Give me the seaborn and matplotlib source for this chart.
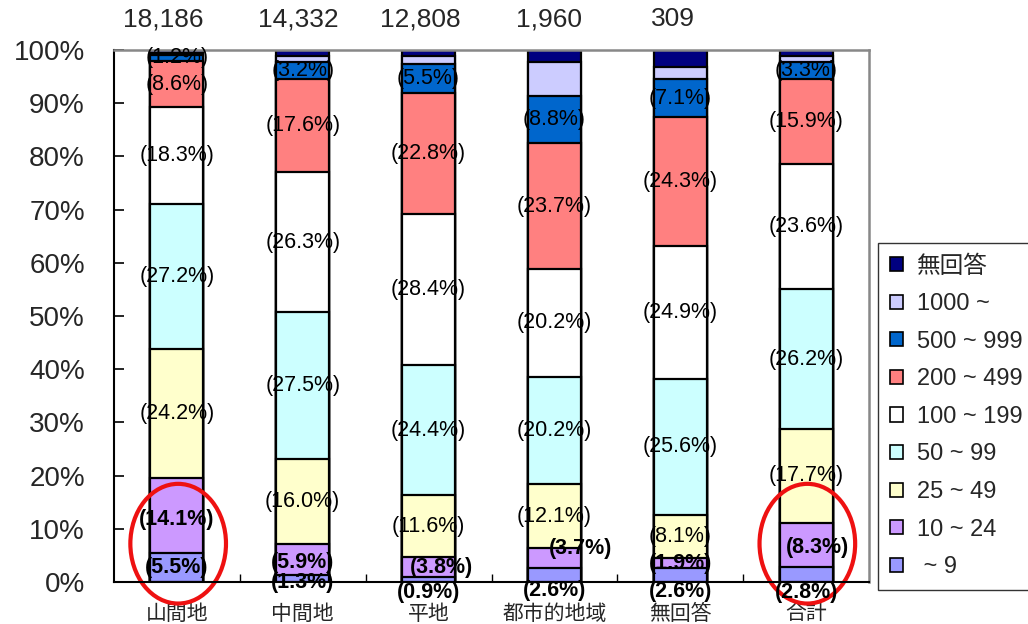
import numpy as np
import matplotlib
matplotlib.use('Agg')
import matplotlib.pyplot as plt
import seaborn as sns
from matplotlib.patches import Patch, Ellipse

# data (percent by size class)
categories = ['山間地', '中間地', '平地', '都市的地域', '無回答', '合計']
counts = ['18,186', '14,332', '12,808', '1,960', '309', '']

class_names = [' ~ 9', '10 ~ 24', '25 ~ 49', '50 ~ 99', '100 ~ 199',
               '200 ~ 499', '500 ~ 999', '1000 ~', '無回答']
s_0_9 = [5.5, 1.3, 0.9, 2.6, 2.6, 2.8]
s_10_24 = [14.1, 5.9, 3.8, 3.7, 1.9, 8.3]
s_25_49 = [24.2, 16.0, 11.6, 12.1, 8.1, 17.7]
s_50_99 = [27.2, 27.5, 24.4, 20.2, 25.6, 26.2]
s_100_199 = [18.3, 26.3, 28.4, 20.2, 24.9, 23.6]
s_200_499 = [8.6, 17.6, 22.8, 23.7, 24.3, 15.9]
s_500_999 = [1.2, 3.2, 5.5, 8.8, 7.1, 3.3]
s_1000 = [0.3, 1.0, 1.5, 6.4, 2.3, 1.1]
s_none = [0.6, 1.2, 1.1, 2.3, 3.2, 1.1]

series = [s_0_9, s_10_24, s_25_49, s_50_99, s_100_199,
          s_200_499, s_500_999, s_1000, s_none]
colors = ['#9999FF', '#CC99FF', '#FFFFCC', '#CCFFFF', '#FFFFFF',
          '#FF8080', '#0066CC', '#CCCCFF', '#000080']

# label nudges in points for the crowded small segments: (bar, class) -> (dx, dy)
nudges = {(0, 1): (0, -3), (1, 0): (0, -3), (1, 1): (0, -2),
          (2, 1): (9, 0), (2, 0): (0, -9),
          (3, 1): (19, 7), (3, 0): (0, -11),
          (4, 0): (0, -12), (5, 1): (8, -2), (5, 0): (0, -13)}
count_dx = [-10, -3, -6, -4, -5, 0]

sns.set_theme(style='white')
plt.rcParams['font.family'] = ['Liberation Sans', 'Noto Sans CJK JP']

fig = plt.figure(figsize=(10.28, 6.24), dpi=100)
ax = fig.add_axes([114 / 1028, 1 - 582 / 624, 755 / 1028, 532 / 624])

vals = np.array(series)
cum = np.cumsum(vals, axis=0)

# stacked bars: draw cumulative totals from the top layer down
for k in range(len(series) - 1, -1, -1):
    sns.barplot(x=categories, y=cum[k], order=categories, color=colors[k],
                saturation=1, width=0.42, edgecolor='black', linewidth=1.6,
                errorbar=None, ax=ax)

# segment labels
for k in range(7):
    for i in range(len(categories)):
        yc = cum[k][i] - vals[k][i] / 2
        dx, dy = nudges.get((i, k), (0, 0))
        bold = k < 2
        ax.annotate(f'({vals[k][i]:.1f}%)', (i, yc), xytext=(dx, dy),
                    textcoords='offset points', ha='center', va='center',
                    fontsize=15.5, fontweight='bold' if bold else 'normal',
                    color='black', annotation_clip=False, zorder=5)

# counts above bars
for i, c in enumerate(counts):
    ax.annotate(c, (i, 100), xytext=(count_dx[i], 22), textcoords='offset points',
                ha='center', va='center', fontsize=19, annotation_clip=False)

# red circles
for i in (0, 5):
    ax.add_patch(Ellipse((i + 0.01, 7.2), 0.76, 22.5, fill=False,
                         edgecolor='#EE1111', linewidth=3, clip_on=False))

ax.set_xlim(-0.5, 5.5)
ax.set_ylim(0, 100)
ax.set_yticks(np.arange(0, 101, 10))
ax.set_yticklabels([f'{v}%' for v in range(0, 101, 10)], fontsize=20)
ax.tick_params(axis='y', direction='in', length=7, width=1.2, color='black',
               left=True, pad=21)
ax.set_xticks(range(len(categories)))
ax.set_xticklabels(categories, fontsize=15)
ax.tick_params(axis='x', which='major', length=0, pad=16)
ax.set_xticks(np.arange(0.5, 5, 1), minor=True)
ax.tick_params(axis='x', which='minor', direction='in', length=6,
               width=1, color='black', bottom=True)
ax.set_xlabel('')
ax.set_ylabel('')

for side in ('left', 'bottom'):
    ax.spines[side].set_color('black')
    ax.spines[side].set_linewidth(1.5)
for side in ('top', 'right'):
    ax.spines[side].set_color('#888888')
    ax.spines[side].set_linewidth(1.8)

handles = [Patch(facecolor=colors[k], edgecolor='black', linewidth=1.2,
                 label=class_names[k]) for k in range(len(series) - 1, -1, -1)]
leg = fig.legend(handles=handles, loc='lower left',
                 bbox_to_anchor=(878 / 1028, 1 - 590 / 624),
                 fontsize=17, frameon=True, fancybox=False,
                 handlelength=0.55, handleheight=0.55, handletextpad=0.6,
                 labelspacing=0.66, borderpad=0.5, borderaxespad=0)
leg.get_frame().set_edgecolor('black')
leg.get_frame().set_linewidth(1)

fig.savefig('out.png', dpi=100)
